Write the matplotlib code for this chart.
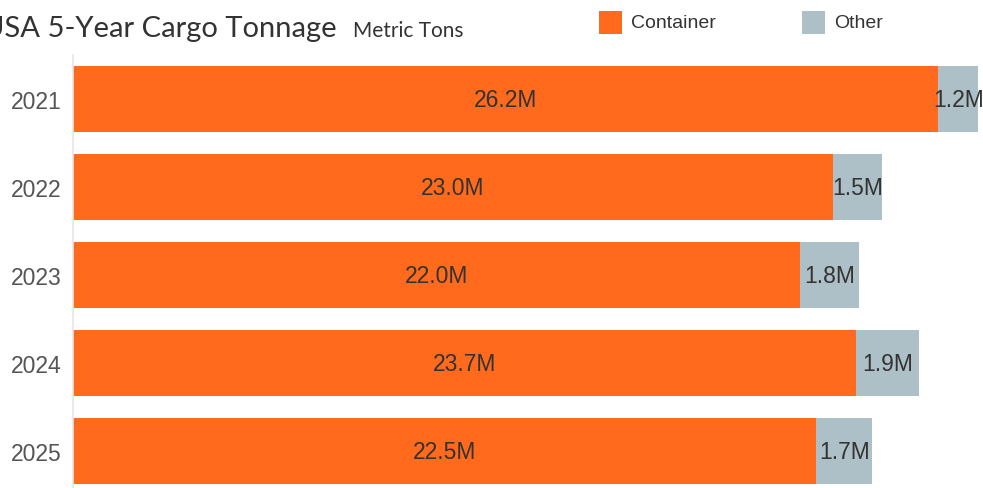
import matplotlib
matplotlib.use("Agg")
import matplotlib.pyplot as plt
from matplotlib.patches import Rectangle

# data
years = ["2021", "2022", "2023", "2024", "2025"]
container = [26.2, 23.0, 22.0, 23.7, 22.5]
other = [1.2, 1.5, 1.8, 1.9, 1.7]
series_names = ["Container", "Other"]
colors = ["#FF6A1C", "#ADBFC7"]

W, H = 983, 489
fig = plt.figure(figsize=(W / 100, H / 100), dpi=100)

# axes in pixel terms: left 73, right 983, top 56, bottom 489
ax = fig.add_axes([73 / W, 0, (W - 73) / W, (H - 56) / H])
pos = list(range(len(years)))

ax.barh(pos, container, height=0.75, color=colors[0], linewidth=0)
ax.barh(pos, other, left=container, height=0.75, color=colors[1], linewidth=0)

lbl_font = "Liberation Sans"
for i in pos:
    ax.text(container[i] / 2, i, f"{container[i]:.1f}M", ha="center", va="center",
            fontsize=16.5, color="#333333", family=lbl_font)
    ax.text(container[i] + other[i] / 2, i, f"{other[i]:.1f}M", ha="center", va="center",
            fontsize=16.5, color="#333333", family=lbl_font)

ax.set_xlim(0, 27.55)
ax.set_ylim(4.42, -0.5)
ax.set_yticks(pos)
ax.set_yticklabels(years, fontsize=16.5, color="#555555", family=lbl_font)
ax.tick_params(axis="y", length=0, pad=8)
ax.set_xticks([])
for s in ["top", "right", "bottom"]:
    ax.spines[s].set_visible(False)
ax.spines["left"].set_color("#E6E6E6")
ax.spines["left"].set_linewidth(1.2)

# title (left edge clipped like the reference)
fig.text(-17 / W, 1 - 37 / H, "USA 5-Year Cargo Tonnage", fontsize=21,
         color="#333333", family="Lato", va="baseline", ha="left")
fig.text(353 / W, 1 - 37 / H, "Metric Tons", fontsize=15,
         color="#333333", family="Lato", va="baseline", ha="left")

# legend
legend_x = [599, 802]
for name, col, x in zip(series_names, colors, legend_x):
    fig.patches.append(Rectangle((x / W, 1 - 35 / H), 23 / W, 23 / H,
                                 transform=fig.transFigure, color=col, linewidth=0))
    fig.text((x + 32) / W, 1 - 23.5 / H, name, fontsize=14, color="#333333",
             family=lbl_font, va="center", ha="left")

fig.savefig("out.png", dpi=100)
